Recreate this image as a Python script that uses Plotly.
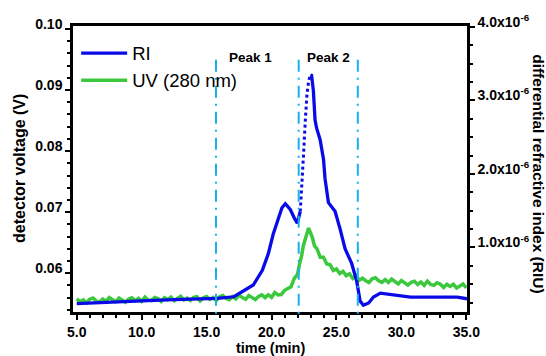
import plotly.graph_objects as go

# ---------------- data ----------------
# UV (280 nm) detector voltage (V), left axis (noisy trace)
uv_time = [5.00, 5.25, 5.50, 5.75, 6.00, 6.25, 6.50, 6.75, 7.00, 7.25, 7.50, 7.75,
           8.00, 8.25, 8.50, 8.75, 9.00, 9.25, 9.50, 9.75, 10.00, 10.25, 10.50, 10.75,
           11.00, 11.25, 11.50, 11.75, 12.00, 12.25, 12.50, 12.75, 13.00, 13.25, 13.50,
           13.75, 14.00, 14.25, 14.50, 14.75, 15.00, 15.25, 15.50, 15.75, 16.00, 16.25,
           16.50, 16.75, 17.00, 17.25, 17.50, 17.75, 18.00, 18.25, 18.50, 18.75, 19.00,
           19.25, 19.50, 19.75, 20.00, 20.25, 20.50, 20.75, 21.00, 21.25, 21.50, 21.75,
           22.00, 22.15, 22.30, 22.45, 22.60, 22.75, 22.85, 23.00, 23.15, 23.30, 23.50,
           23.75, 24.00, 24.25, 24.50, 24.75, 25.00, 25.25, 25.50, 25.75, 26.00, 26.25,
           26.50, 26.75, 27.00, 27.25, 27.50, 27.75, 28.00, 28.25, 28.50, 28.75, 29.00,
           29.25, 29.50, 29.75, 30.00, 30.25, 30.50, 30.75, 31.00, 31.25, 31.50, 31.75,
           32.00, 32.25, 32.50, 32.75, 33.00, 33.25, 33.50, 33.75, 34.00, 34.25, 34.50,
           34.75, 35.00]
uv_volt = [0.05580, 0.05531, 0.05562, 0.05513, 0.05574, 0.05595, 0.05546, 0.05527,
           0.05578, 0.05539, 0.05600, 0.05561, 0.05532, 0.05593, 0.05554, 0.05525,
           0.05576, 0.05597, 0.05548, 0.05589, 0.05540, 0.05611, 0.05562, 0.05553,
           0.05604, 0.05585, 0.05536, 0.05597, 0.05568, 0.05609, 0.05550, 0.05581,
           0.05622, 0.05563, 0.05594, 0.05555, 0.05606, 0.05617, 0.05548, 0.05599,
           0.05620, 0.05571, 0.05602, 0.05553, 0.05614, 0.05635, 0.05586, 0.05567,
           0.05618, 0.05579, 0.05640, 0.05601, 0.05572, 0.05634, 0.05596, 0.05568,
           0.05620, 0.05645, 0.05600, 0.05648, 0.05605, 0.05685, 0.05645, 0.05650,
           0.05720, 0.05750, 0.05780, 0.05915, 0.05980, 0.06150, 0.06270, 0.06450,
           0.06550, 0.06690, 0.06740, 0.06660, 0.06580, 0.06450, 0.06400, 0.06260,
           0.06260, 0.06150, 0.06140, 0.06045, 0.06070, 0.05995, 0.06030, 0.05960,
           0.05990, 0.05915, 0.05965, 0.05885, 0.05920, 0.05878, 0.05848, 0.05908,
           0.05927, 0.05875, 0.05850, 0.05895, 0.05850, 0.05905, 0.05860, 0.05825,
           0.05880, 0.05837, 0.05805, 0.05852, 0.05870, 0.05817, 0.05855, 0.05802,
           0.05870, 0.05815, 0.05800, 0.05845, 0.05820, 0.05765, 0.05820, 0.05785,
           0.05820, 0.05757, 0.05785, 0.05822, 0.05760]

# RI differential refractive index (units of 1e-6 RIU), right axis
ri_time_a = [5.0, 7.0, 10.0, 12.5, 14.5, 15.8, 17.1, 17.8, 18.59, 19.29, 19.75, 20.13,
             20.52, 20.8, 21.06, 21.44, 21.75, 21.98, 22.21]
ri_val_a = [0.237, 0.255, 0.273, 0.290, 0.303, 0.307, 0.330, 0.401, 0.490, 0.690, 0.916,
            1.182, 1.396, 1.54, 1.595, 1.516, 1.40, 1.329, 1.489]
ri_time_dot = [22.21, 22.35, 22.47, 22.60, 22.73, 22.86, 22.93, 22.99]
ri_val_dot = [1.489, 2.022, 2.288, 2.732, 3.087, 3.265, 3.331, 3.344]
ri_time_b = [22.99, 23.08, 23.22, 23.35, 23.47, 23.74, 24.0, 24.12, 24.38, 24.89, 25.28,
             25.66, 26.17, 26.56, 26.82, 27.07, 27.48, 27.85, 28.38, 29.41, 30.7, 33.27,
             34.3, 35.05]
ri_val_b = [3.344, 3.34, 3.131, 2.732, 2.621, 2.465, 2.199, 1.932, 1.609, 1.493, 1.249,
            0.983, 0.783, 0.539, 0.273, 0.214, 0.246, 0.326, 0.379, 0.357, 0.326, 0.326,
            0.326, 0.303]

peak_bounds = [15.72, 22.09, 26.64]
peak_labels = ["Peak 1", "Peak 2"]
peak_label_x = [18.35, 24.4]

x_ticks = [5, 10, 15, 20, 25, 30, 35]
x_ticktext = ["5.0", "10.0", "15.0", "20.0", "25.0", "30.0", "35.0"]
y_ticks = [0.06, 0.07, 0.08, 0.09, 0.10]
y_ticktext = ["0.06", "0.07", "0.08", "0.09", "0.10"]
y2_ticks = [1, 2, 3, 4]
y2_ticktext = ["1.0x10<sup>-6</sup>", "2.0x10<sup>-6</sup>", "3.0x10<sup>-6</sup>",
               "4.0x10<sup>-6</sup>"]

BLUE = "#0A0AE8"
GREEN = "#3CC83C"
CYAN = "#1AB0EE"
FONT = "Liberation Sans"

fig = go.Figure()

fig.add_trace(go.Scatter(x=uv_time, y=uv_volt, mode="lines", name="UV (280 nm)",
                         line=dict(color=GREEN, width=3.5), yaxis="y", legendrank=2))
fig.add_trace(go.Scatter(x=ri_time_a + [None] + ri_time_b, y=ri_val_a + [None] + ri_val_b,
                         mode="lines", name="RI", line=dict(color=BLUE, width=3.3),
                         yaxis="y2", legendrank=1, connectgaps=False))
fig.add_trace(go.Scatter(x=ri_time_dot, y=ri_val_dot, mode="lines", showlegend=False,
                         line=dict(color=BLUE, width=3, dash="dot"), yaxis="y2"))

for xb in peak_bounds:
    fig.add_shape(type="line", xref="x", yref="paper", x0=xb, x1=xb, y0=0.882, y1=-0.028,
                  line=dict(color=CYAN, width=2, dash="12px,6px,2px,6px"))

for lab, lx in zip(peak_labels, peak_label_x):
    fig.add_annotation(x=lx, y=0.89, xref="x", yref="paper", text=lab, showarrow=False,
                       font=dict(family=FONT, size=13.5, color="black", weight="bold"),
                       xanchor="center", yanchor="middle")

tickfont = dict(family=FONT, size=14, color="black", weight="bold")

fig.update_layout(
    width=546, height=356,
    margin=dict(l=73, r=79, t=20, b=44),
    paper_bgcolor="white", plot_bgcolor="white",
    showlegend=True,
    legend=dict(x=0.008, y=0.97, xanchor="left", yanchor="top", bgcolor="rgba(0,0,0,0)",
                font=dict(family=FONT, size=18.5, color="black"), tracegroupgap=0,
                itemwidth=46),
    xaxis=dict(range=[4.71, 35.05], tickvals=x_ticks, ticktext=x_ticktext,
               ticks="outside", ticklen=5, tickwidth=2, tickcolor="black",
               showline=True, linecolor="black", linewidth=2.5, mirror=True,
               showgrid=False, zeroline=False, tickfont=tickfont,
               minor=dict(dtick=1, tick0=0, ticks="outside", ticklen=3, tickwidth=1.5,
                          tickcolor="black", showgrid=False)),
    yaxis=dict(range=[0.05365, 0.10048], tickvals=y_ticks, ticktext=y_ticktext,
               ticks="outside", ticklen=5, tickwidth=2, tickcolor="black",
               showline=True, linecolor="black", linewidth=2.5, mirror=False,
               showgrid=False, zeroline=False, tickfont=tickfont, ticklabelshift=-5,
               minor=dict(dtick=0.002, tick0=0, ticks="outside", ticklen=3, tickwidth=1.5,
                          tickcolor="black", showgrid=False)),
    yaxis2=dict(range=[0.123, 4.01], tickvals=y2_ticks, ticktext=y2_ticktext,
                overlaying="y", side="right",
                ticks="outside", ticklen=5, tickwidth=2, tickcolor="black",
                showline=True, linecolor="black", linewidth=2.5,
                showgrid=False, zeroline=False, tickfont=tickfont, ticklabelshift=-5,
                minor=dict(dtick=0.25, tick0=0, ticks="outside", ticklen=3, tickwidth=1.5,
                           tickcolor="black", showgrid=False)),
)

fig.add_annotation(text="detector voltage (V)", xref="paper", yref="paper",
                   x=-0.137, y=0.5, textangle=-90, showarrow=False,
                   font=dict(family=FONT, size=16, color="black", weight="bold"),
                   xanchor="center", yanchor="middle")
fig.add_annotation(text="differential refractive index (RIU)", xref="paper", yref="paper",
                   x=1.183, y=0.485, textangle=90, showarrow=False,
                   font=dict(family=FONT, size=15.5, color="black", weight="bold"),
                   xanchor="center", yanchor="middle")
fig.add_annotation(text="time (min)", xref="paper", yref="paper",
                   x=0.5, y=-0.125, showarrow=False,
                   font=dict(family=FONT, size=14.5, color="black", weight="bold"),
                   xanchor="center", yanchor="middle")

fig.write_html("out.html", config={"displayModeBar": False},
               post_script="document.body.style.margin='0px';")
